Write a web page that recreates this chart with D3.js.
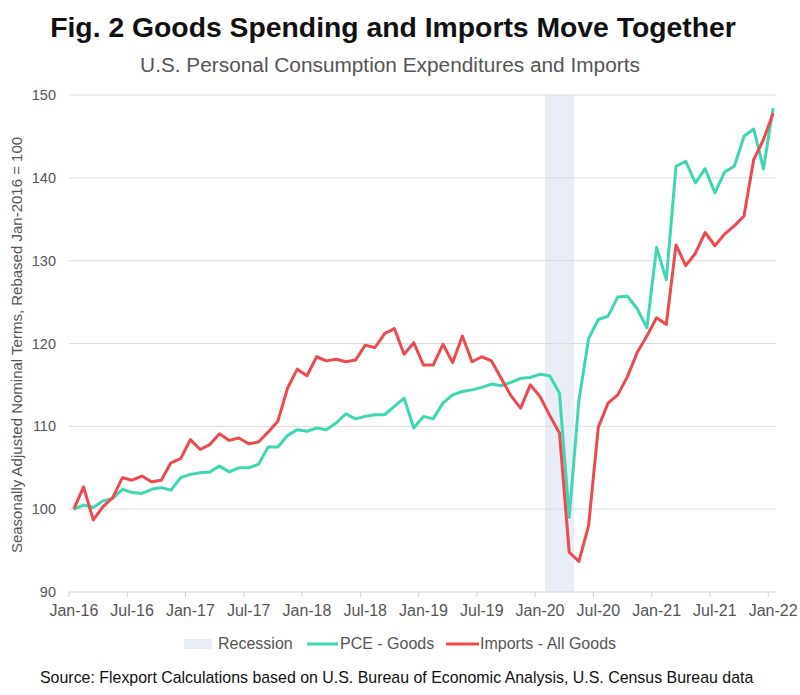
<!DOCTYPE html>
<html>
<head>
<meta charset="utf-8">
<script src="https://cdn.jsdelivr.net/npm/d3@7"></script>
<style>
  html, body { margin: 0; padding: 0; background: #fff; }
  svg { display: block; }
</style>
</head>
<body>
<svg id="chart" width="800" height="695"></svg>
<script>
// ---- Data ----
const months = [
  "Jan-16","Feb-16","Mar-16","Apr-16","May-16","Jun-16","Jul-16","Aug-16","Sep-16","Oct-16","Nov-16","Dec-16",
  "Jan-17","Feb-17","Mar-17","Apr-17","May-17","Jun-17","Jul-17","Aug-17","Sep-17","Oct-17","Nov-17","Dec-17",
  "Jan-18","Feb-18","Mar-18","Apr-18","May-18","Jun-18","Jul-18","Aug-18","Sep-18","Oct-18","Nov-18","Dec-18",
  "Jan-19","Feb-19","Mar-19","Apr-19","May-19","Jun-19","Jul-19","Aug-19","Sep-19","Oct-19","Nov-19","Dec-19",
  "Jan-20","Feb-20","Mar-20","Apr-20","May-20","Jun-20","Jul-20","Aug-20","Sep-20","Oct-20","Nov-20","Dec-20",
  "Jan-21","Feb-21","Mar-21","Apr-21","May-21","Jun-21","Jul-21","Aug-21","Sep-21","Oct-21","Nov-21","Dec-21",
  "Jan-22"
];
const pceGoods = [
  100.0,100.5,100.2,101.0,101.3,102.4,102.0,101.9,102.4,102.6,102.3,103.8,
  104.2,104.4,104.5,105.2,104.5,105.0,105.0,105.4,107.5,107.5,108.9,109.6,
  109.4,109.8,109.6,110.4,111.5,110.9,111.2,111.4,111.4,112.4,113.4,109.8,
  111.2,110.9,112.8,113.8,114.2,114.4,114.7,115.1,114.9,115.3,115.8,115.9,
  116.3,116.1,114.0,99.0,113.1,120.6,122.9,123.3,125.6,125.7,124.2,121.9,
  131.6,127.7,141.4,142.0,139.4,141.1,138.2,140.7,141.4,145.0,145.9,141.1,
  148.4
];
const importsGoods = [
  100.0,102.7,98.7,100.3,101.4,103.8,103.5,104.0,103.3,103.5,105.6,106.1,
  108.4,107.2,107.8,109.1,108.3,108.6,107.9,108.1,109.3,110.6,114.6,116.9,
  116.1,118.4,117.9,118.1,117.8,118.0,119.8,119.5,121.2,121.8,118.7,120.1,
  117.4,117.4,119.9,117.7,120.9,117.8,118.4,117.9,115.8,113.7,112.2,115.0,
  113.6,111.3,109.2,94.8,93.7,98.0,109.9,112.8,113.8,116.0,118.9,120.9,
  123.1,122.3,131.9,129.4,130.9,133.4,131.8,133.2,134.2,135.4,142.2,144.6,
  147.8
];
const recessionMonths = ["Feb-20", "Apr-20"];
const xTickLabels = ["Jan-16","Jul-16","Jan-17","Jul-17","Jan-18","Jul-18","Jan-19","Jul-19","Jan-20","Jul-20","Jan-21","Jul-21","Jan-22"];
const yTicks = [90, 100, 110, 120, 130, 140, 150];
const seriesNames = ["PCE - Goods", "Imports - All Goods"];

// ---- Layout ----
const plotLeft = 69, plotRight = 778, plotTop = 95, plotBottom = 592;
const green = "#3fd6b4", red = "#ec4a50", recessionFill = "#e8edf6";
const narrow = "'Liberation Sans Narrow', 'Arial Narrow', 'Liberation Sans', Arial, sans-serif";
const regular = "'Liberation Sans', Arial, sans-serif";

const svg = d3.select("#chart");

// fit a text to a target width by adjusting its font size
function fitWidth(sel, target, maxSize) {
  const node = sel.node();
  let fs = maxSize;
  sel.attr("font-size", fs);
  const w = node.getComputedTextLength();
  if (w > 0) {
    fs = Math.min(maxSize * 1.5, fs * target / w);
    sel.attr("font-size", fs);
  }
  return sel;
}

const idx = d3.range(months.length);
const x = d3.scaleLinear().domain([-0.5, months.length - 0.5]).range([plotLeft, plotRight]);
const y = d3.scaleLinear().domain([90, 150]).range([plotBottom, plotTop]);

// Title & subtitle
fitWidth(svg.append("text")
  .attr("x", 393).attr("y", 37)
  .attr("text-anchor", "middle")
  .attr("font-family", narrow)
  .attr("font-weight", "bold")
  .attr("fill", "#111")
  .text("Fig. 2 Goods Spending and Imports Move Together"), 686, 32);

fitWidth(svg.append("text")
  .attr("x", 390).attr("y", 72)
  .attr("text-anchor", "middle")
  .attr("font-family", narrow)
  .attr("fill", "#555")
  .text("U.S. Personal Consumption Expenditures and Imports"), 500, 20);

// Recession band
const r0 = months.indexOf(recessionMonths[0]);
const r1 = months.indexOf(recessionMonths[1]);
svg.append("rect")
  .attr("x", x(r0 - 0.5))
  .attr("y", plotTop)
  .attr("width", x(r1 + 0.5) - x(r0 - 0.5))
  .attr("height", plotBottom - plotTop)
  .attr("fill", recessionFill);

// Gridlines
svg.append("g").selectAll("line")
  .data(yTicks.filter(d => d !== 90))
  .join("line")
  .attr("x1", plotLeft).attr("x2", plotRight - 2)
  .attr("y1", d => y(d)).attr("y2", d => y(d))
  .attr("stroke", "#dcdcdc").attr("stroke-width", 1);

// Y axis labels
const yAxis = d3.axisLeft(y).tickValues(yTicks).tickSize(0).tickPadding(0).tickFormat(d3.format("d"));
const yg = svg.append("g").attr("transform", `translate(${plotLeft - 13},0)`).call(yAxis);
yg.select(".domain").remove();
yg.selectAll("text")
  .attr("font-family", regular)
  .attr("font-size", 14.5).attr("fill", "#555");

// X axis
const xBottom = svg.append("g").attr("transform", `translate(0,${plotBottom})`);
xBottom.append("line")
  .attr("x1", plotLeft).attr("x2", plotRight - 2)
  .attr("stroke", "#d0d0d0").attr("stroke-width", 1);
const tickIdx = xTickLabels.map(l => months.indexOf(l));
xBottom.selectAll("line.tick")
  .data(tickIdx)
  .join("line").attr("class", "tick")
  .attr("x1", d => x(d - 0.5)).attr("x2", d => x(d - 0.5))
  .attr("y1", 0).attr("y2", 5)
  .attr("stroke", "#d0d0d0");
xBottom.selectAll("text")
  .data(tickIdx)
  .join("text")
  .attr("x", d => x(d))
  .attr("y", 24)
  .attr("text-anchor", "middle")
  .attr("font-family", narrow)
  .attr("font-size", 16).attr("fill", "#555")
  .text(d => months[d]);

// Y axis title
svg.append("text")
  .attr("transform", `translate(22,345) rotate(-90)`)
  .attr("text-anchor", "middle")
  .attr("font-family", regular)
  .attr("font-size", 15).attr("fill", "#555")
  .text("Seasonally Adjusted Nominal Terms, Rebased Jan-2016 = 100");

// Lines
const line = d3.line().x(d => x(d[0])).y(d => y(d[1]));
svg.append("path")
  .datum(idx.map(i => [i, pceGoods[i]]))
  .attr("d", line)
  .attr("fill", "none").attr("stroke", green).attr("stroke-width", 3)
  .attr("stroke-linejoin", "round");
svg.append("path")
  .datum(idx.map(i => [i, importsGoods[i]]))
  .attr("d", line)
  .attr("fill", "none").attr("stroke", red).attr("stroke-width", 3)
  .attr("stroke-linejoin", "round");

// Legend
const lg = svg.append("g").attr("font-family", narrow)
  .attr("font-size", 16).attr("fill", "#555");
const ly = 644;
lg.append("rect").attr("x", 184).attr("y", ly - 5).attr("width", 28).attr("height", 10).attr("fill", recessionFill);
lg.append("text").attr("x", 218).attr("y", ly + 5).text("Recession");
lg.append("line").attr("x1", 307).attr("x2", 338).attr("y1", ly).attr("y2", ly).attr("stroke", green).attr("stroke-width", 3);
lg.append("text").attr("x", 340).attr("y", ly + 5).text(seriesNames[0]);
lg.append("line").attr("x1", 446).attr("x2", 479).attr("y1", ly).attr("y2", ly).attr("stroke", red).attr("stroke-width", 3);
lg.append("text").attr("x", 480).attr("y", ly + 5).text(seriesNames[1]);

// Source
fitWidth(svg.append("text")
  .attr("x", 40).attr("y", 683)
  .attr("font-family", narrow)
  .attr("fill", "#111")
  .text("Source: Flexport Calculations based on U.S. Bureau of Economic Analysis, U.S. Census Bureau data"), 714, 17);
</script>
</body>
</html>
